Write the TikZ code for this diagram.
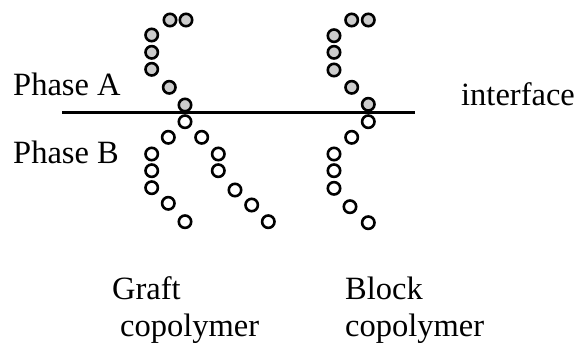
\documentclass[tikz,border=0pt]{standalone}
\usepackage{fontspec}
\setmainfont{Liberation Serif}
\begin{document}
\begin{tikzpicture}[x=1pt,y=-1pt,
  bead/.style={circle,draw=black,line width=2.6pt,minimum size=12.4pt,inner sep=0pt},
  beadA/.style={bead,fill=gray!40},
  beadB/.style={bead,fill=white},
  lbl/.style={anchor=base west,inner sep=0pt,font=\fontsize{32.5}{38}\selectfont}]
\useasboundingbox (0,0) rectangle (577,349);

% interface line
\coordinate (ifL) at (62,112.7);
\coordinate (ifR) at (415,112.7);
\draw[line width=2.5pt] (ifL) -- (ifR);

% graft copolymer: segment in phase A
\foreach \n/\x/\y in {a1/170/20, a2/186/20, a3/151.7/35, a4/151.7/52.3, a5/151.7/69.3, a6/169.3/87.3, a7/185/105}
  \node[beadA] (g\n) at (\x,\y) {};
% graft copolymer: backbone and graft in phase B
\foreach \n/\x/\y in {b1/185/121.7, b2/168.3/137.3, b3/151.7/154, b4/151.7/170.7, b5/151.7/187.7, b6/168.3/203.3, b7/185/221.7,
                      c1/201.7/137.3, c2/218.3/154, c3/218.3/170.7, c4/235/190, c5/251.7/205, c6/268.3/221.7}
  \node[beadB] (g\n) at (\x,\y) {};

% block copolymer: segment in phase A
\foreach \n/\x/\y in {a1/351.7/20, a2/368.3/20, a3/334/35.7, a4/334/52.3, a5/334/70, a6/351.7/87.3, a7/368.3/104.3}
  \node[beadA] (k\n) at (\x,\y) {};
% block copolymer: segment in phase B
\foreach \n/\x/\y in {b1/368.3/121.7, b2/351.7/137.3, b3/334/154, b4/334/170.7, b5/334/188.3, b6/350/206.7, b7/368.3/222.7}
  \node[beadB] (k\n) at (\x,\y) {};

% labels
\node[lbl] (phA) at (13,95) {Phase A};
\node[lbl] (phB) at (13,163) {Phase B};
\node[lbl] (intf) at (461,105) {interface};
\node[lbl] (graft) at (112,299) {Graft};
\node[lbl] (gcop) at (120,336) {copolymer};
\node[lbl] (block) at (345,299) {Block};
\node[lbl] (bcop) at (345,336) {copolymer};
\end{tikzpicture}
\end{document}
